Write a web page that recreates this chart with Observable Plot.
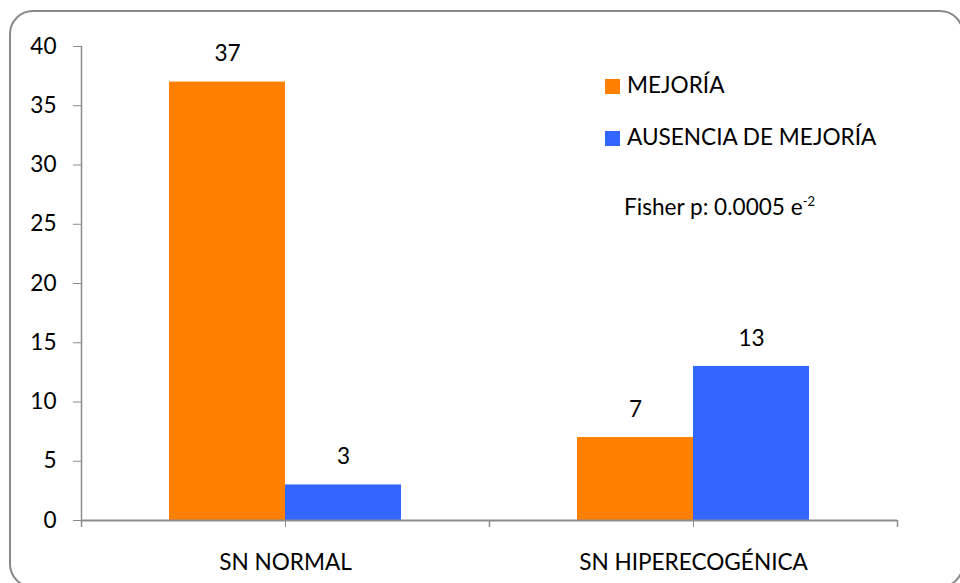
<!DOCTYPE html>
<html>
<head>
<meta charset="utf-8">
<script src="https://cdn.jsdelivr.net/npm/d3@7"></script>
<script src="https://cdn.jsdelivr.net/npm/@observablehq/plot@0.6"></script>
<style>
  html, body { margin: 0; padding: 0; background: #fff; }
  #wrap { position: relative; width: 960px; height: 583px; overflow: hidden; font-family: Lato, "Open Sans", sans-serif; color: #000; }
  #border { position: absolute; left: 9px; top: 10px; width: 955px; height: 578px; box-sizing: border-box;
            border: 2px solid #8a8a8a; border-radius: 24px; pointer-events: none; }
  .leg { position: absolute; font-size: 22.6px; line-height: 22px; white-space: nowrap; }
  .sw { position: absolute; width: 15px; height: 15px; }
  sup { font-size: 13px; vertical-align: 9px; line-height: 0; }
</style>
</head>
<body>
<div id="wrap"><div id="border"></div></div>
<script>
// Categories, series and counts
const categories = ["SN NORMAL", "SN HIPERECOGÉNICA"];
const seriesNames = ["MEJORÍA", "AUSENCIA DE MEJORÍA"];
const mejoria = [37, 7];
const ausencia = [3, 13];
const yTicks = [0, 5, 10, 15, 20, 25, 30, 35, 40];
const seriesColors = ["#FF8000", "#3366FF"];
const noteText = "Fisher p: 0.0005 e";
const noteExp = "-2";

const rowsA = categories.map((c, i) => ({category: c, series: seriesNames[0], value: mejoria[i]}));
const rowsB = categories.map((c, i) => ({category: c, series: seriesNames[1], value: ausencia[i]}));

// layout: each category band is 408px wide, two 116px bars side by side
const gap = 88, barW = 116, band = 408;
const axisGray = "#8c8c8c";
const fs = 22.6;

const chart = Plot.plot({
  width: 960,
  height: 583,
  marginLeft: 81,
  marginRight: 63,
  marginTop: 46,
  marginBottom: 63,
  style: {fontFamily: "Lato, 'Open Sans', sans-serif", fontSize: fs + "px", background: "transparent", color: "#000"},
  x: {domain: categories, padding: 0},
  y: {domain: [0, 40]},
  marks: [
    Plot.barY(rowsA, {x: "category", y: "value", fill: seriesColors[0], insetLeft: gap, insetRight: band - gap - barW}),
    Plot.barY(rowsB, {x: "category", y: "value", fill: seriesColors[1], insetLeft: gap + barW, insetRight: gap}),
    Plot.text(rowsA, {x: "category", y: "value", text: "value", dx: -barW / 2, dy: -28, fontSize: fs, fill: "#000"}),
    Plot.text(rowsB, {x: "category", y: "value", text: "value", dx: barW / 2, dy: -28, fontSize: fs, fill: "#000"}),
    Plot.frame({anchor: "left", stroke: axisGray, strokeWidth: 1.5}),
    Plot.ruleY([0], {stroke: axisGray, strokeWidth: 2}),
    // tick marks at the band edges
    Plot.ruleX(categories, {x: d => d, y1: 0, y2: 0, dx: -band / 2, insetTop: 0, insetBottom: -7, stroke: axisGray, strokeWidth: 1.5}),
    Plot.ruleX([categories[categories.length - 1]], {x: d => d, y1: 0, y2: 0, dx: band / 2, insetTop: 0, insetBottom: -7, stroke: axisGray, strokeWidth: 1.5}),
    Plot.axisY({ticks: yTicks, tickSize: 8, tickPadding: 17, stroke: axisGray, fill: "#000", fontSize: fs, label: null}),
    Plot.axisX({tickSize: 7, tickPadding: 26, stroke: axisGray, fill: "#000", fontSize: fs, label: null})
  ]
});
chart.style.position = "absolute";
chart.style.left = "0px";
chart.style.top = "0px";
const wrap = document.getElementById("wrap");
wrap.insertBefore(chart, wrap.firstChild);

// legend and test note
const legendTops = [79, 131];
seriesNames.forEach((name, i) => {
  const sw = document.createElement("div");
  sw.className = "sw";
  sw.style.left = "605px";
  sw.style.top = legendTops[i] + "px";
  sw.style.background = seriesColors[i];
  wrap.appendChild(sw);
  const t = document.createElement("div");
  t.className = "leg";
  t.style.left = "627px";
  t.style.top = (legendTops[i] - 5) + "px";
  t.textContent = name;
  wrap.appendChild(t);
});
const note = document.createElement("div");
note.className = "leg";
note.style.left = "624px";
note.style.top = "196px";
note.textContent = noteText;
const sup = document.createElement("sup");
sup.textContent = noteExp;
note.appendChild(sup);
wrap.appendChild(note);
</script>
</body>
</html>
